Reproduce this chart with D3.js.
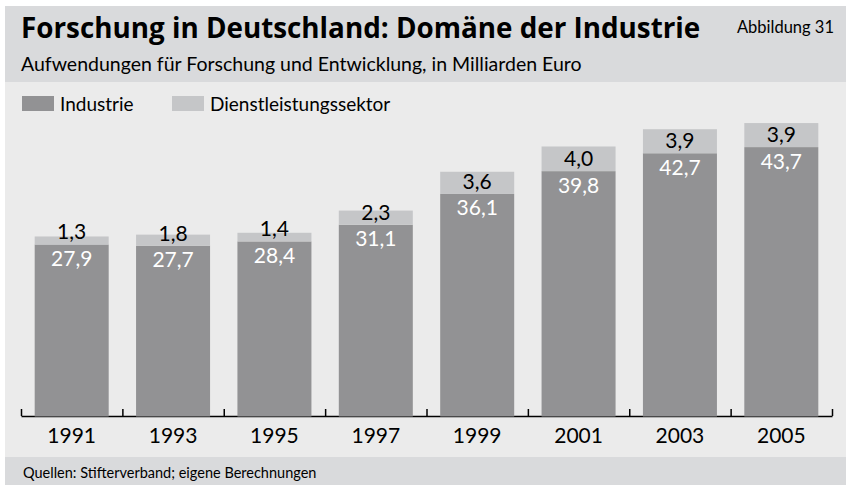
<!DOCTYPE html>
<html lang="de">
<head>
    <meta charset="UTF-8">
    <title>Forschung in Deutschland</title>
    <script src="https://d3js.org/d3.v7.min.js"></script>
    <style>
        body { margin: 0; background: #fff; }
        svg { display: block; font-family: "Lato", "Noto Sans", sans-serif; }
    </style>
</head>
<body>
    <div id="chart"></div>

    <script>
        // Data (Milliarden Euro)
        const years = ["1991", "1993", "1995", "1997", "1999", "2001", "2003", "2005"];
        const industrie = [27.9, 27.7, 28.4, 31.1, 36.1, 39.8, 42.7, 43.7];
        const dienstleistung = [1.3, 1.8, 1.4, 2.3, 3.6, 4.0, 3.9, 3.9];
        const seriesNames = ["Industrie", "Dienstleistungssektor"];

        const W = 846, H = 485;
        const colDark = "#929294", colLight = "#c5c6c8";
        const fmt = v => d3.format(".1f")(v).replace(".", ",");

        const svg = d3.select("#chart").append("svg")
            .attr("width", W)
            .attr("height", H);

        // Backgrounds
        svg.append("rect").attr("x", 5).attr("y", 6).attr("width", W - 5).attr("height", 76).attr("fill", "#d9dadc");
        svg.append("rect").attr("x", 5).attr("y", 82).attr("width", W - 5).attr("height", 375).attr("fill", "#ebebeb");
        svg.append("rect").attr("x", 5).attr("y", 457).attr("width", W - 5).attr("height", 28).attr("fill", "#d9dadc");

        // Titles
        svg.append("text")
            .attr("x", 21).attr("y", 38)
            .style("font-family", "'Open Sans', sans-serif")
            .style("font-size", "27.8px").style("font-weight", "bold")
            .text("Forschung in Deutschland: Domäne der Industrie");

        svg.append("text")
            .attr("x", 834).attr("y", 33)
            .attr("text-anchor", "end")
            .style("font-size", "16.5px")
            .text("Abbildung 31");

        svg.append("text")
            .attr("x", 21).attr("y", 71)
            .style("font-size", "19.5px")
            .text("Aufwendungen für Forschung und Entwicklung, in Milliarden Euro");

        // Legend
        const legend = svg.selectAll(".legend")
            .data(seriesNames)
            .join("g")
                .attr("class", "legend")
                .attr("transform", (d, i) => `translate(${i === 0 ? 22 : 172},96)`);

        legend.append("rect")
            .attr("width", 32).attr("height", 15)
            .attr("fill", (d, i) => i === 0 ? colDark : colLight);

        legend.append("text")
            .attr("x", 38).attr("y", 15)
            .style("font-size", "19px")
            .text(d => d);

        // Scales
        const x = d3.scaleBand()
            .domain(years)
            .range([21, 832])
            .paddingInner(0.27)
            .paddingOuter(0.135);

        const y = d3.scaleLinear()
            .domain([0, 50])
            .range([416.5, 416.5 - 50 * 6.165]);

        // Axis with boundary ticks pointing up
        const tickPos = d3.scaleLinear().domain([0, years.length]).range([21, 832]);
        svg.append("g")
            .attr("transform", "translate(0,416)")
            .call(d3.axisBottom(tickPos).ticks(years.length).tickSizeInner(-7).tickSizeOuter(0).tickFormat(""))
            .call(g => g.select(".domain").attr("stroke-width", 1.5).attr("stroke", "#000"))
            .call(g => g.selectAll(".tick line").attr("stroke-width", 1.5).attr("stroke", "#000"));

        svg.append("g")
            .attr("transform", "translate(0,416)")
            .call(d3.axisBottom(x).tickSize(0).tickPadding(12))
            .call(g => g.select(".domain").remove())
            .call(g => g.selectAll("text")
                .style("font-family", "Lato, 'Noto Sans', sans-serif")
                .style("font-size", "21px")
                .attr("fill", "#000"));

        // Bars
        const rows = years.map((yr, i) => ({year: yr, ind: industrie[i], dl: dienstleistung[i]}));

        const bars = svg.append("g").selectAll("g")
            .data(rows)
            .join("g");

        bars.append("rect")
            .attr("x", d => x(d.year))
            .attr("width", x.bandwidth())
            .attr("y", d => y(d.ind))
            .attr("height", d => y(0) - y(d.ind))
            .attr("fill", colDark);

        bars.append("rect")
            .attr("x", d => x(d.year))
            .attr("width", x.bandwidth())
            .attr("y", d => y(d.ind + d.dl))
            .attr("height", d => y(d.ind) - y(d.ind + d.dl))
            .attr("fill", colLight);

        bars.append("text")
            .attr("x", d => x(d.year) + x.bandwidth() / 2)
            .attr("y", d => y(d.ind) + 21.5)
            .attr("text-anchor", "middle")
            .attr("fill", "#fff")
            .style("font-size", "21px")
            .text(d => fmt(d.ind));

        bars.append("text")
            .attr("x", d => x(d.year) + x.bandwidth() / 2)
            .attr("y", d => y(d.ind) - 5)
            .attr("text-anchor", "middle")
            .attr("fill", "#000")
            .style("font-size", "21px")
            .text(d => fmt(d.dl));

        // Footer
        svg.append("text")
            .attr("x", 23).attr("y", 478)
            .style("font-size", "14.5px")
            .text("Quellen: Stifterverband; eigene Berechnungen");
    </script>
</body>
</html>
